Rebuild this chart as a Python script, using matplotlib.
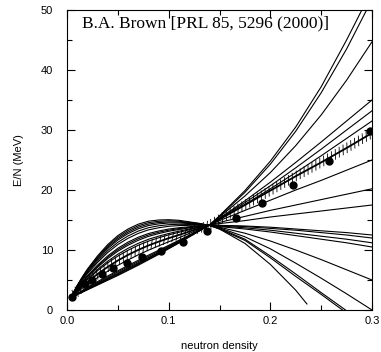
import numpy as np
import matplotlib
matplotlib.use("Agg")
import matplotlib.pyplot as plt
import matplotlib.patheffects as pe
from matplotlib.ticker import MultipleLocator

# density grids (fm^-3)
X_LOW = [0.005, 0.01, 0.015, 0.02, 0.03, 0.04, 0.05, 0.06, 0.07, 0.08, 0.09, 0.1, 0.11, 0.12, 0.13, 0.14]
X_HIGH = [0.15, 0.175, 0.2, 0.225, 0.25, 0.275, 0.3]
X_FULL = X_LOW + X_HIGH

# Skyrme curves, E/N in MeV
c1_x = X_LOW + [0.15, 0.175, 0.2, 0.225, 0.25, 0.275, 0.29]
c1 = [2.1, 2.55, 2.95, 3.35, 4.15, 4.95, 5.75, 6.6, 7.45, 8.35, 9.25, 10.2, 11.15, 12.15, 13.15, 14.15,
      15.7, 19.9, 24.8, 30.5, 37.2, 45.0, 50.0]
c2_x = X_LOW + [0.15, 0.175, 0.2, 0.225, 0.25, 0.275, 0.2947]
c2 = [2.11, 2.58, 3.0, 3.42, 4.25, 5.07, 5.88, 6.74, 7.59, 8.48, 9.37, 10.3, 11.22, 12.2, 13.18, 14.15,
      15.6, 19.6, 24.3, 29.8, 36.2, 43.5, 50.0]
c3 = [2.12, 2.61, 3.05, 3.49, 4.34, 5.19, 6.02, 6.88, 7.73, 8.61, 9.48, 10.39, 11.31, 12.25, 13.2, 14.15,
      15.5, 19.0, 22.9, 27.4, 32.5, 38.3, 44.7]
c4 = [2.12, 2.65, 3.1, 3.56, 4.44, 5.3, 6.15, 7.02, 7.86, 8.73, 9.59, 10.5, 11.38, 12.31, 13.23, 14.15,
      15.3, 18.2, 21.3, 24.6, 28.0, 31.5, 35.0]
c5 = [2.14, 2.69, 3.18, 3.66, 4.59, 5.49, 6.35, 7.22, 8.07, 8.93, 9.77, 10.63, 11.49, 12.38, 13.26, 14.15,
      15.25, 17.9, 20.7, 23.7, 26.8, 30.0, 33.2]
c6 = [2.15, 2.73, 3.25, 3.76, 4.73, 5.67, 6.54, 7.42, 8.27, 9.13, 9.94, 10.78, 11.61, 12.45, 13.31, 14.14,
      15.2, 17.6, 20.2, 22.9, 25.7, 28.6, 31.5]
c8 = [2.18, 2.94, 3.62, 4.24, 5.4, 6.46, 7.44, 8.34, 9.18, 9.96, 10.68, 11.37, 12.03, 12.74, 13.45, 14.14,
      14.9, 16.6, 18.3, 20.0, 21.6, 23.3, 25.0]
c9 = [2.28, 3.3, 4.21, 5.04, 6.53, 7.85, 8.99, 9.95, 10.78, 11.47, 12.03, 12.52, 12.94, 13.35, 13.76, 14.13,
      14.6, 15.6, 16.6, 17.5, 18.4, 19.3, 20.2]
c10 = [2.3, 3.38, 4.33, 5.2, 6.75, 8.13, 9.3, 10.28, 11.1, 11.78, 12.3, 12.75, 13.13, 13.48, 13.83, 14.13,
       14.4, 14.9, 15.5, 16.0, 16.5, 17.0, 17.5]
c11 = [2.33, 3.49, 4.51, 5.46, 7.11, 8.57, 9.8, 10.79, 11.61, 12.26, 12.73, 13.12, 13.42, 13.67, 13.93, 14.12,
       14.1, 14.0, 13.8, 13.5, 13.2, 12.9, 12.5]
c12 = [2.35, 3.55, 4.61, 5.58, 7.29, 8.79, 10.04, 11.05, 11.87, 12.5, 12.95, 13.3, 13.56, 13.77, 13.98, 14.12,
       14.1, 13.9, 13.6, 13.3, 12.9, 12.5, 12.0]
c13 = [2.36, 3.61, 4.7, 5.71, 7.47, 9.01, 10.29, 11.31, 12.12, 12.74, 13.16, 13.49, 13.71, 13.87, 14.03, 14.12,
       14.0, 13.7, 13.3, 12.8, 12.3, 11.8, 11.2]
c14 = [2.4, 3.75, 4.94, 6.03, 7.92, 9.57, 10.91, 11.95, 12.76, 13.35, 13.7, 13.95, 14.07, 14.11, 14.15, 14.11,
       13.9, 13.5, 13.0, 12.4, 11.8, 11.2, 10.5]
c15 = [2.43, 3.84, 5.08, 6.22, 8.19, 9.9, 11.28, 12.34, 13.15, 13.71, 14.03, 14.22, 14.29, 14.26, 14.23, 14.11,
       13.8, 12.8, 11.5, 10.0, 8.4, 6.7, 5.0]
c16 = [2.45, 3.93, 5.22, 6.42, 8.46, 10.23, 11.66, 12.73, 13.53, 14.07, 14.35, 14.5, 14.51, 14.41, 14.3, 14.11,
       13.7, 12.2, 10.2, 7.8, 5.3, 2.7, 0.0]
c17_x = X_LOW + [0.15, 0.175, 0.2, 0.225, 0.25, 0.271]
c17 = [2.48, 4.04, 5.41, 6.67, 8.82, 10.68, 12.15, 13.24, 14.04, 14.56, 14.78, 14.87, 14.8, 14.6, 14.4, 14.1,
       13.5, 11.6, 8.7, 5.6, 2.6, 0.0]
c18_x = X_LOW + [0.15, 0.175, 0.2, 0.225, 0.25, 0.274]
c18 = [2.47, 3.98, 5.31, 6.54, 8.64, 10.46, 11.9, 12.98, 13.79, 14.32, 14.57, 14.68, 14.66, 14.5, 14.35, 14.1,
       13.6, 11.8, 9.0, 6.0, 2.9, 0.0]
c19_x = X_LOW + [0.15, 0.175, 0.2, 0.225, 0.236]
c19 = [2.5, 4.1, 5.5, 6.8, 9.0, 10.9, 12.4, 13.5, 14.3, 14.8, 15.0, 15.05, 14.95, 14.7, 14.45, 14.1,
       13.5, 11.1, 7.6, 3.3, 1.0]

# hatched curve
hatch_y = [2.23, 3.13, 3.93, 4.66, 5.99, 7.18, 8.25, 9.18, 10.01, 10.75, 11.38, 11.97, 12.5, 13.06, 13.61, 14.13,
           15.1, 17.5, 19.9, 22.3, 24.6, 27.0, 29.5]

# data points
dots_x = [0.005, 0.018, 0.025, 0.034, 0.045, 0.059, 0.074, 0.092, 0.114, 0.138, 0.166, 0.192, 0.222, 0.258, 0.298]
dots_y = [2.1, 4.3, 5.0, 6.0, 7.0, 7.8, 8.8, 9.9, 11.3, 13.2, 15.3, 17.8, 20.8, 24.8, 29.8]

curves = [(c1_x, c1), (c2_x, c2), (X_FULL, c3), (X_FULL, c4), (X_FULL, c5),
          (X_FULL, c6), (X_FULL, c8), (X_FULL, c9), (X_FULL, c10), (X_FULL, c11),
          (X_FULL, c12), (X_FULL, c13), (X_FULL, c14), (X_FULL, c15), (X_FULL, c16),
          (c17_x, c17), (c18_x, c18), (c19_x, c19)]

plt.rcParams['font.family'] = ['Liberation Sans', 'DejaVu Sans']
fig = plt.figure(figsize=(3.81, 3.52), dpi=100)
ax = fig.add_axes([67 / 381, 42 / 352, 305 / 381, 300 / 352])

for xs, ys in curves:
    ax.plot(xs, ys, color='black', linewidth=0.8, solid_joinstyle='round')

ax.plot(X_FULL, hatch_y, color='black', linewidth=1.3,
        path_effects=[pe.TickedStroke(spacing=3.2, angle=62, length=1.1, linewidth=0.6),
                      pe.TickedStroke(spacing=3.2, angle=-118, length=1.1, linewidth=0.6),
                      pe.Normal()])

ax.plot(dots_x, dots_y, 'o', color='black', markersize=5, zorder=5)

ax.text(0.0147, 47.7, 'B.A. Brown [PRL 85, 5296 (2000)]', family='Liberation Serif',
        fontsize=12.5, va='center', ha='left')

ax.set_xlim(0, 0.3)
ax.set_ylim(0, 50)
ax.set_xticks([0.0, 0.1, 0.2, 0.3])
ax.set_xticklabels(['0.0', '0.1', '0.2', '0.3'])
ax.xaxis.set_minor_locator(MultipleLocator(0.05))
ax.yaxis.set_major_locator(MultipleLocator(10))
ax.yaxis.set_minor_locator(MultipleLocator(5))
ax.tick_params(which='both', direction='in', top=True, right=True, labelsize=8, width=0.8)
ax.tick_params(axis='x', which='major', length=6, pad=4)
ax.tick_params(axis='y', which='major', length=6, pad=10)
ax.tick_params(which='minor', length=3.5)
for s in ax.spines.values():
    s.set_linewidth(0.8)
ax.set_xlabel('neutron density', fontsize=8, labelpad=11)
ax.set_ylabel('E/N (MeV)', fontsize=8, labelpad=12)

fig.savefig('out.png', dpi=100)
